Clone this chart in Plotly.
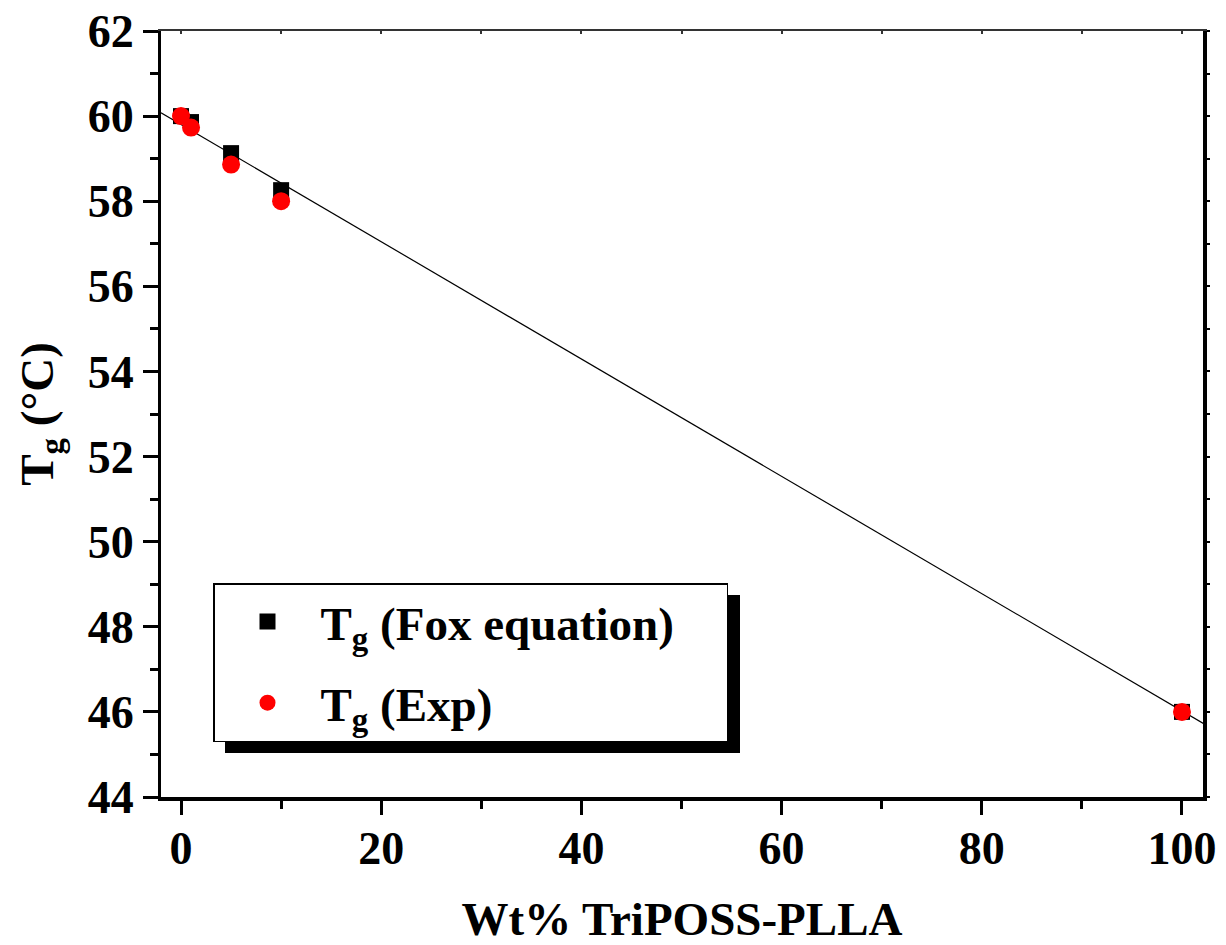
import plotly.graph_objects as go

wt = [0, 1, 5, 10, 100]
tg_fox = [60.0, 59.86, 59.13, 58.26, 46.0]
tg_exp = [60.0, 59.73, 58.86, 58.0, 46.0]
fit_x = [-2.0, 102.2]
fit_y = [60.08, 45.72]

FONT = "Liberation Serif"
W, H = 1226, 945
L, R, T, B = 161, 23, 31, 148

fig = go.Figure()
fig.add_trace(go.Scatter(x=fit_x, y=fit_y, mode="lines", line=dict(color="black", width=1.2),
                         showlegend=False, hoverinfo="skip"))
fig.add_trace(go.Scatter(x=wt, y=tg_fox, mode="markers",
                         name="T<sub>g</sub> (Fox equation)" + "\u00a0" * 4,
                         legendgroup="a",
                         marker=dict(symbol="square", size=16, color="black")))
fig.add_trace(go.Scatter(x=wt, y=tg_exp, mode="markers", name="T<sub>g</sub> (Exp)",
                         legendgroup="b",
                         marker=dict(symbol="circle", size=18, color="red")))

pw = W - L - R
ph = H - T - B
lx0, ly0 = 213, 583
lx1, ly1 = 727, 741
def px(x):
    return (x - L) / pw
def py(y):
    return (H - B - y) / ph

fig.add_shape(type="rect", xref="paper", yref="paper",
              x0=px(lx0 + 12), x1=px(lx1 + 13), y0=py(ly1 + 12), y1=py(ly0 + 12),
              fillcolor="black", line=dict(width=0), layer="above")

fig.update_layout(
    width=W, height=H,
    margin=dict(l=L, r=R, t=T, b=B, pad=0, autoexpand=False),
    paper_bgcolor="white", plot_bgcolor="white",
    font=dict(family=FONT, color="black"),
    showlegend=True,
    legend=dict(x=px(lx0), y=py(ly0), xanchor="left", yanchor="top",
                bgcolor="white", bordercolor="black", borderwidth=1.5,
                font=dict(family=FONT, size=47, color="black", weight="bold"),
                itemsizing="trace", tracegroupgap=17, itemwidth=96),
    xaxis=dict(range=[-2.0, 102.1], showgrid=False, zeroline=False, automargin=False,
               showline=True, linecolor="black", linewidth=4, mirror=False,
               ticks="outside", ticklen=14, tickwidth=3, tickcolor="black",
               tick0=0, dtick=20, ticklabelstandoff=-6,
               minor=dict(ticks="outside", ticklen=8, tickwidth=2.5, tickcolor="black", dtick=10),
               tickfont=dict(family=FONT, size=46, weight="bold"),
               title=dict(text="Wt% TriPOSS-PLLA", standoff=35,
                          font=dict(family=FONT, size=47, weight="bold"))),
    yaxis=dict(range=[44, 62], showgrid=False, zeroline=False, automargin=False,
               showline=True, linecolor="black", linewidth=3, mirror=False,
               ticks="outside", ticklen=15, tickwidth=3, tickcolor="black",
               tick0=44, dtick=2, ticklabelstandoff=0,
               minor=dict(ticks="outside", ticklen=8, tickwidth=2.5, tickcolor="black", dtick=1),
               tickfont=dict(family=FONT, size=46, weight="bold"),
               title=dict(text="T<sub>g</sub> (°C)", standoff=20,
                          font=dict(family=FONT, size=47, weight="bold"))),
    xaxis2=dict(range=[-2.0, 102.1], overlaying="x", side="top", showgrid=False, zeroline=False,
                automargin=False,
                showline=True, linecolor="#333", linewidth=2, ticks="inside", ticklen=3,
                tickwidth=1.5, tickcolor="#333", tick0=0, dtick=10, showticklabels=False),
    yaxis2=dict(range=[44, 62], overlaying="y", side="right", showgrid=False, zeroline=False,
                automargin=False,
                showline=True, linecolor="black", linewidth=4, ticks="outside", ticklen=3,
                tickwidth=1.5, tickcolor="black", tick0=44, dtick=1, showticklabels=False),
)
fig.add_trace(go.Scatter(x=[fit_x[0]], y=[fit_y[0]], xaxis="x2", yaxis="y2", mode="markers",
                         marker=dict(opacity=0), showlegend=False, hoverinfo="skip"))

fig.write_html("out.html", config={"displayModeBar": False},
               post_script="document.body.style.margin='0';document.body.style.padding='0';")
